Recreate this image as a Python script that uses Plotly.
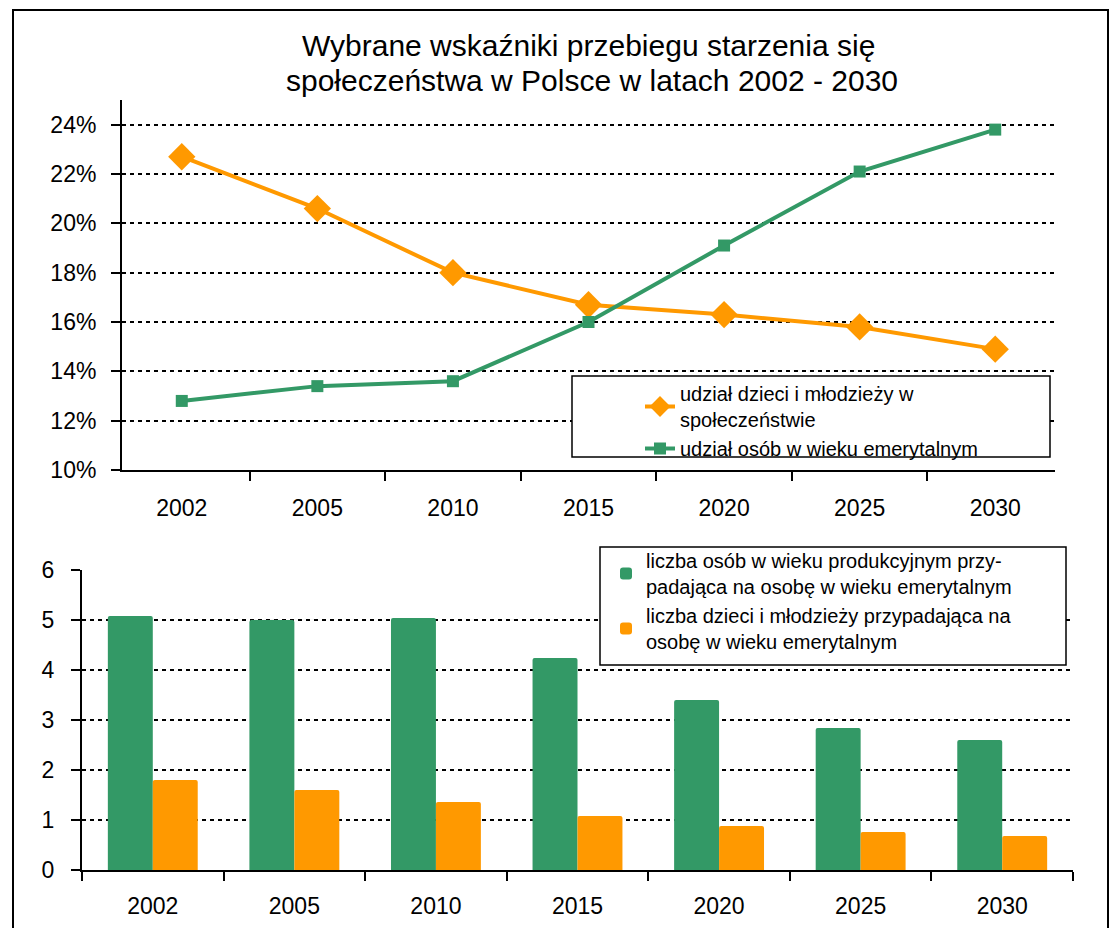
import plotly.graph_objects as go

years = ["2002", "2005", "2010", "2015", "2020", "2025", "2030"]
share_young = [0.227, 0.206, 0.180, 0.167, 0.163, 0.158, 0.149]
share_retired = [0.128, 0.134, 0.136, 0.160, 0.191, 0.221, 0.238]
workers_per_retiree = [5.08, 5.00, 5.04, 4.24, 3.40, 2.84, 2.60]
young_per_retiree = [1.80, 1.60, 1.36, 1.08, 0.88, 0.76, 0.68]

pct_ticks = [0.10, 0.12, 0.14, 0.16, 0.18, 0.20, 0.22, 0.24]
num_ticks = [0, 1, 2, 3, 4, 5, 6]

title_lines = ["Wybrane wskaźniki przebiegu starzenia się",
               "społeczeństwa w Polsce w latach 2002 - 2030"]
name_young = "udział dzieci i młodzieży w<br>społeczeństwie"
name_retired = "udział osób w wieku emerytalnym"
name_workers = "liczba osób w wieku produkcyjnym przy-<br>padająca na osobę w wieku emerytalnym"
name_young_ratio = "liczba dzieci i młodzieży przypadająca na<br>osobę w wieku emerytalnym"

GREEN = "#339966"
ORANGE = "#FF9900"
FONT = "Liberation Sans, Arial, sans-serif"
OFF = 8  # page body margin
W, H = 1119 - OFF, 928 - OFF

def px_x(v):
    return (v - OFF) / W

def px_y(v):
    return 1 - (v - OFF) / H

fig = go.Figure()

fig.add_trace(go.Scatter(
    x=years, y=share_young, name=name_young, mode="lines+markers",
    line=dict(color=ORANGE, width=4),
    marker=dict(symbol="diamond", size=21, color=ORANGE),
    xaxis="x", yaxis="y", legend="legend",
))
fig.add_trace(go.Scatter(
    x=years, y=share_retired, name=name_retired, mode="lines+markers",
    line=dict(color=GREEN, width=4),
    marker=dict(symbol="square", size=12, color=GREEN),
    xaxis="x", yaxis="y", legend="legend",
))
fig.add_trace(go.Bar(
    x=years, y=workers_per_retiree, name=name_workers,
    marker=dict(color=GREEN, line=dict(width=0), cornerradius=2),
    xaxis="x2", yaxis="y2", legend="legend2",
))
fig.add_trace(go.Bar(
    x=years, y=young_per_retiree, name=name_young_ratio,
    marker=dict(color=ORANGE, line=dict(width=0), cornerradius=2),
    xaxis="x2", yaxis="y2", legend="legend2",
))

axis_common = dict(
    showline=True, linecolor="black", linewidth=2,
    ticks="outside", ticklen=9, tickwidth=1.5, tickcolor="black",
    tickfont=dict(family=FONT, size=23, color="black"),
    zeroline=False, automargin=False,
)
grid = dict(showgrid=True, gridcolor="black", gridwidth=1.6, griddash="4px,4px")

fig.update_layout(
    width=W, height=H,
    margin=dict(l=0, r=0, t=0, b=0, autoexpand=False),
    paper_bgcolor="white", plot_bgcolor="white",
    font=dict(family=FONT, color="black"),
    showlegend=True,
    barmode="group", bargap=0.365, bargroupgap=0,
    xaxis=dict(domain=[px_x(122), px_x(1055)], anchor="y", type="category",
               tickson="boundaries", showgrid=False, ticklabelstandoff=16, **axis_common),
    yaxis=dict(domain=[px_y(470), px_y(100)], anchor="x", range=[0.10, 0.25],
               tickvals=pct_ticks, tickformat=".0%", ticklabelstandoff=10,
               **grid, **axis_common),
    xaxis2=dict(domain=[px_x(82), px_x(1073)], anchor="y2", type="category",
                tickson="boundaries", showgrid=False, ticklabelstandoff=14, **axis_common),
    yaxis2=dict(domain=[px_y(870), px_y(570)], anchor="x2", range=[0, 6],
                tickvals=num_ticks, ticklabelstandoff=12, **grid, **axis_common),
    legend=dict(x=px_x(640), y=px_y(374), xanchor="left", yanchor="top",
                bgcolor="rgba(0,0,0,0)", borderwidth=0,
                font=dict(family=FONT, size=20, color="black"),
                tracegroupgap=0, itemwidth=30),
    legend2=dict(x=px_x(606), y=px_y(541), xanchor="left", yanchor="top",
                 bgcolor="rgba(0,0,0,0)", borderwidth=0,
                 font=dict(family=FONT, size=20, color="black"),
                 tracegroupgap=0, itemwidth=30, traceorder="normal"),
    shapes=[
        dict(type="rect", xref="paper", yref="paper",
             x0=px_x(13), x1=px_x(1108), y0=-0.05, y1=px_y(10),
             line=dict(color="black", width=2), fillcolor="rgba(0,0,0,0)", layer="above"),
        dict(type="rect", xref="paper", yref="paper",
             x0=px_x(572), x1=px_x(1050), y0=px_y(457), y1=px_y(376),
             line=dict(color="black", width=1.5), fillcolor="white", layer="above"),
        dict(type="rect", xref="paper", yref="paper",
             x0=px_x(600), x1=px_x(1066), y0=px_y(665), y1=px_y(547),
             line=dict(color="black", width=1.5), fillcolor="white", layer="above"),
    ],
    annotations=[
        dict(text=title_lines[0], x=px_x(588), y=px_y(45), xref="paper", yref="paper",
             xanchor="center", yanchor="middle", showarrow=False,
             font=dict(family=FONT, size=30, color="black")),
        dict(text=title_lines[1], x=px_x(592), y=px_y(80), xref="paper", yref="paper",
             xanchor="center", yanchor="middle", showarrow=False,
             font=dict(family=FONT, size=30, color="black")),
    ],
)

fig.write_html("out.html")
